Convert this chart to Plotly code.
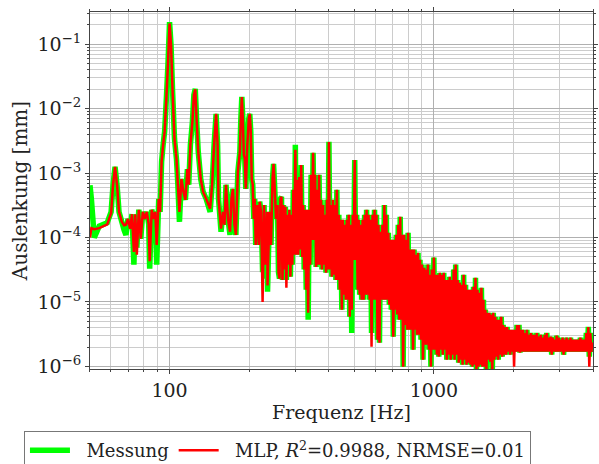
import plotly.graph_objects as go

# Frequency axis values [Hz]
freq_hz = [
    50.0, 50.6, 51.9, 54.2, 58.1, 60.1, 61.1, 62.2, 63.3, 64.4,
    66.0, 67.3, 68.4, 69.6, 70.9, 72.1, 73.3, 74.2, 75.2, 76.5,
    77.8, 79.2, 80.6, 82.0, 83.4, 84.1, 85.6, 87.2, 88.3, 89.4,
    91.0, 92.1, 93.3, 94.5, 95.8, 97.4, 98.7, 100.0, 101.3, 102.6,
    104.4, 106.2, 107.5, 109.0, 110.9, 112.9, 114.8, 116.8, 118.2, 119.9,
    122.0, 123.6, 125.1, 126.7, 128.4, 131.2, 134.0, 137.5, 142.4, 144.9,
    147.4, 150.0, 152.0, 153.2, 156.6, 159.2, 161.4, 163.5, 166.4, 169.3,
    171.5, 173.7, 176.0, 178.2, 181.3, 184.5, 186.1, 187.7, 189.3, 191.0,
    192.6, 194.3, 196.8, 199.4, 201.1, 202.9, 204.6, 206.4, 208.2, 210.0,
    211.8, 214.7, 217.6, 219.2, 222.0, 224.9, 227.8, 230.8, 233.9, 234.8,
    238.9, 242.0, 245.2, 247.4, 249.6, 252.9, 256.1, 258.3, 260.5, 262.8,
    265.1, 267.4, 269.7, 272.0, 274.3, 276.7, 279.0, 281.4, 284.0, 286.5,
    288.9, 291.4, 294.0, 296.5, 299.1, 301.7, 304.2, 306.8, 309.5, 312.2,
    314.8, 317.5, 320.3, 323.1, 326.0, 328.8, 331.6, 334.5, 337.4, 340.3,
    343.2, 346.2, 349.2, 352.2, 355.3, 358.4, 361.5, 364.6, 367.8, 371.0,
    374.1, 377.3, 380.6, 383.9, 387.3, 390.6, 394.0, 397.4, 400.9, 404.4,
    407.8, 411.3, 415.0, 418.6, 422.2, 425.9, 429.5, 433.2, 436.9, 440.7,
    444.6, 448.5, 452.3, 456.2, 460.2, 464.2, 468.2, 472.3, 476.4, 480.5,
    484.7, 488.9, 493.2, 497.5, 501.8, 506.1, 510.5, 514.9, 519.4, 523.9,
    528.4, 533.0, 537.6, 542.3, 547.0, 551.7, 556.5, 561.3, 566.2, 571.1,
    576.0, 581.0, 586.1, 591.2, 596.3, 601.5, 606.6, 611.9, 617.2, 622.5,
    627.9, 633.3, 638.6, 644.1, 649.8, 655.4, 661.1, 666.8, 672.6, 678.4,
    684.3, 690.2, 696.2, 702.2, 708.3, 714.4, 720.6, 726.8, 733.2, 739.5,
    745.9, 752.4, 758.7, 765.3, 771.9, 778.6, 785.4, 792.2, 799.0, 805.9,
    812.9, 819.9, 827.1, 834.3, 841.5, 848.8, 856.1, 863.5, 871.0, 878.5,
    886.2, 893.9, 901.6, 909.4, 917.3, 925.2, 933.3, 941.4, 949.5, 957.7,
    966.0, 974.4, 982.9, 991.4, 1000, 1008.7, 1017, 1026, 1035, 1044,
    1053, 1062, 1072, 1081, 1090, 1099, 1109, 1119, 1128, 1138,
    1148, 1158, 1168, 1178, 1188, 1198, 1209, 1219, 1230, 1241,
    1252, 1263, 1273, 1284, 1296, 1307, 1318, 1329, 1341, 1353,
    1364, 1376, 1388, 1400, 1412, 1424, 1437, 1449, 1462, 1475,
    1487, 1500, 1513, 1526, 1540, 1553, 1566, 1580, 1593, 1607,
    1621, 1635, 1649, 1663, 1678, 1693, 1707, 1722, 1737, 1752,
    1767, 1782, 1798, 1814, 1829, 1845, 1861, 1877, 1893, 1909,
    1926, 1943, 1960, 1977, 1994, 2011, 2028, 2046, 2063, 2081,
    2099, 2117, 2136, 2154, 2173, 2192, 2211, 2230, 2249, 2269,
    2288, 2308, 2328, 2348, 2369, 2389, 2410, 2431, 2452, 2473,
    2495, 2516, 2538, 2560, 2582, 2605, 2627, 2650, 2673, 2696,
    2720, 2743, 2767, 2791, 2815, 2840, 2864, 2889, 2914, 2939,
    2965, 2990, 3016, 3042, 3069, 3095, 3122, 3149, 3176, 3204,
    3232, 3260, 3288, 3316, 3345, 3374, 3403, 3433, 3463, 3493,
    3523, 3553, 3584, 3615, 3646, 3678, 3710, 3742, 3774, 3807,
    3840, 3873, 3907, 3940, 3975, 4000,
]

# Measured displacement amplitude [mm]
messung_mm = [
    6.5e-4, 4.0e-4, 1.0e-4, 1.5e-4, 1.7e-4, 2.5e-4, 6.5e-4, 1.25e-3, 6.5e-4, 2.5e-4,
    1.75e-4, 1.3e-4, 1.1e-4, 1.95e-4, 1.37e-4, 2.3e-4, 3.8e-5, 2.3e-4, 7.0e-5, 2.7e-4,
    9.6e-5, 2.5e-4, 1.95e-4, 2.5e-4, 1.6e-4, 3.3e-5, 2.7e-4, 1.95e-4, 2.5e-4, 3.8e-5,
    4.0e-4, 2.5e-4, 1.5e-3, 2.7e-3, 4.4e-3, 1.64e-2, 5.3e-2, 0.22, 9.7e-2, 2.0e-2,
    3.4e-3, 1.66e-3, 6.6e-4, 1.75e-4, 8.1e-4, 5.1e-4, 3.85e-4, 1.15e-3, 6.6e-4, 2.74e-3,
    6.2e-3, 1.64e-2, 2.03e-2, 6.2e-3, 2.14e-3, 8.1e-4, 5.1e-4, 4.0e-4, 2.5e-4, 6.6e-4,
    2.74e-3, 8.3e-3, 2.7e-3, 4.0e-4, 1.23e-4, 2.5e-4, 1.58e-4, 6.6e-4, 1.95e-4, 1.1e-4,
    4.0e-4, 5.7e-4, 1.58e-4, 1.1e-4, 1.04e-3, 2.14e-3, 7.0e-3, 1.52e-2, 7.0e-3, 1.9e-3,
    1.66e-3, 5.7e-4, 2.7e-3, 7.0e-3, 8.3e-3, 4.4e-3, 8.1e-4, 6.6e-4, 1.95e-4, 4.0e-4,
    7.7e-5, 3.2e-4, 7.7e-5, 3.6e-4, 2.5e-4, 2.9e-5, 3.2e-4, 2.3e-5, 2.5e-4, 1.44e-5,
    2.5e-4, 7.7e-5, 8.1e-4, 1.39e-3, 6.6e-4, 1.95e-4, 3.2e-4, 2.9e-5, 2.3e-5, 4.0e-4,
    4.3e-4, 2.2e-5, 3.2e-4, 3.2e-5, 3.0e-4, 2.2e-5, 2.25e-4, 3.8e-5, 2.7e-4, 2.46e-5,
    2.25e-4, 3.8e-5, 5.5e-4, 5.4e-5, 2.74e-3, 5.4e-5, 7.9e-4, 5.4e-5, 8.7e-4, 6.5e-5,
    1.34e-3, 5.0e-5, 3.2e-4, 3.2e-5, 2.7e-4, 1.55e-5, 2.7e-4, 5.3e-6, 2.7e-4, 3.8e-5,
    9.4e-4, 9.2e-5, 2.06e-3, 9.2e-5, 9.4e-4, 3.5e-5, 5.5e-4, 3.8e-5, 9.4e-4, 3.8e-5,
    3.85e-4, 3.2e-5, 3.2e-4, 3.8e-5, 2.25e-4, 2.84e-5, 3.85e-4, 3.2e-5, 3.05e-3, 3.2e-5,
    3.2e-4, 2.46e-5, 3.85e-4, 2.65e-5, 3.2e-4, 2.2e-5, 5.5e-4, 2.2e-5, 2.25e-4, 1.55e-5,
    1.88e-4, 7.6e-6, 1.88e-4, 1.3e-5, 1.58e-4, 1.08e-5, 1.88e-4, 1.08e-5, 2.25e-4, 5.9e-6,
    1.58e-4, 3.3e-6, 2.25e-4, 4.5e-5, 1.6e-3, 4.5e-5, 2.25e-4, 1.55e-5, 1.88e-4, 1.3e-5,
    1.58e-4, 1.08e-5, 1.88e-4, 1.08e-5, 2.25e-4, 1.3e-5, 2.7e-4, 1.3e-5, 2.25e-4, 1.08e-5,
    1.88e-4, 3.3e-6, 2.25e-4, 1.08e-5, 2.7e-4, 1.08e-5, 2.25e-4, 2.6e-6, 1.58e-4, 2.33e-6,
    1.23e-4, 1.08e-5, 1.58e-4, 1.08e-5, 3.2e-4, 1.08e-5, 2.25e-4, 1.08e-5, 1.19e-4, 9.1e-6,
    9.2e-5, 7.6e-6, 9.2e-5, 2.9e-6, 9.2e-5, 7.6e-6, 1.1e-4, 6.4e-6, 1.58e-4, 5.3e-6,
    2.1e-4, 5.3e-6, 1.1e-4, 9.9e-7, 1.1e-4, 4.4e-6, 9.2e-5, 3.7e-6, 1.19e-4, 3.7e-6,
    6.5e-5, 3.7e-6, 6.5e-5, 1.82e-6, 6.5e-5, 3.7e-6, 5.4e-5, 3.1e-6, 5.8e-5, 3.1e-6,
    4.5e-5, 2.6e-6, 3.8e-5, 1.27e-6, 3.4e-5, 2.17e-6, 3.2e-5, 2.17e-6, 3.8e-5, 1.82e-6,
    2.65e-5, 9.9e-7, 3.2e-5, 1.82e-6, 4.9e-5, 1.82e-6, 2.65e-5, 1.52e-6, 2.65e-5, 1.42e-6,
    2.84e-5, 1.82e-6, 2.65e-5, 1.52e-6, 2.84e-5, 1.82e-6, 2.2e-5, 1.27e-6, 2.2e-5, 1.52e-6,
    2.46e-5, 1.27e-6, 2.2e-5, 1.52e-6, 3.2e-5, 1.27e-6, 3.8e-5, 1.52e-6, 2.2e-5, 1.14e-6,
    1.99e-5, 1.27e-6, 1.85e-5, 1.06e-6, 2.65e-5, 1.27e-6, 1.85e-5, 1.06e-6, 1.55e-5, 1.14e-6,
    1.55e-5, 1.06e-6, 1.55e-5, 9.9e-7, 1.72e-5, 1.06e-6, 2.38e-5, 8.0e-7, 1.55e-5, 9.9e-7,
    1.39e-5, 1.06e-6, 1.66e-5, 9.9e-7, 1.08e-5, 9.9e-7, 7.6e-6, 8.0e-7, 6.8e-6, 1.27e-6,
    6.8e-6, 1.18e-6, 6.4e-6, 8.0e-7, 6.8e-6, 1.27e-6, 5.9e-6, 1.42e-6, 5.3e-6, 1.27e-6,
    5.3e-6, 1.52e-6, 5.9e-6, 1.42e-6, 4.4e-6, 1.52e-6, 4.1e-6, 1.52e-6, 4.1e-6, 1.69e-6,
    3.7e-6, 1.52e-6, 3.7e-6, 1.69e-6, 3.7e-6, 1.69e-6, 3.7e-6, 1.69e-6, 4.4e-6, 1.69e-6,
    4.4e-6, 1.63e-6, 3.7e-6, 1.69e-6, 3.7e-6, 1.69e-6, 3.3e-6, 1.69e-6, 3.7e-6, 1.69e-6,
    3.1e-6, 1.69e-6, 3.3e-6, 1.69e-6, 3.1e-6, 1.69e-6, 3.1e-6, 1.69e-6, 3.3e-6, 1.69e-6,
    2.9e-6, 1.69e-6, 3.1e-6, 1.69e-6, 2.8e-6, 1.69e-6, 3.1e-6, 1.69e-6, 3.3e-6, 1.69e-6,
    2.8e-6, 1.69e-6, 2.9e-6, 1.52e-6, 2.8e-6, 1.69e-6, 2.6e-6, 1.69e-6, 3.0e-6, 1.69e-6,
    2.8e-6, 1.69e-6, 2.6e-6, 1.69e-6, 2.8e-6, 1.52e-6, 2.6e-6, 1.69e-6, 2.8e-6, 1.69e-6,
    2.6e-6, 1.69e-6, 2.8e-6, 1.69e-6, 2.6e-6, 1.69e-6, 2.6e-6, 1.69e-6, 2.6e-6, 1.69e-6,
    2.6e-6, 1.69e-6, 2.8e-6, 1.69e-6, 2.6e-6, 1.69e-6, 2.6e-6, 1.69e-6, 3.3e-6, 1.69e-6,
    4.1e-6, 1.42e-6, 3.3e-6, 1.69e-6, 2.33e-6, 2.17e-6,
]

# MLP prediction: equal to the measurement except at these frequencies [Hz -> mm]
mlp_abweichung = {
    50.0: 1.0e-4, 50.6: 1.4e-4, 51.9: 1.35e-4, 54.2: 1.4e-4, 58.1: 1.6e-4,
    60.1: 2.4e-4, 67.3: 1.55e-4, 68.4: 1.58e-4, 73.3: 6.0e-5, 75.2: 5.4e-5,
    84.1: 4.3e-5, 89.4: 7.7e-5, 100.0: 0.21, 109.0: 2.5e-4, 125.1: 2.0e-2,
    142.4: 2.8e-4, 156.6: 1.37e-4, 169.3: 1.23e-4, 224.9: 1.0e-5, 230.8: 3.8e-5,
    234.8: 1.8e-5, 276.7: 1.66e-5, 299.1: 2.3e-3, 334.5: 6.8e-6, 488.9: 7.6e-6,
    581.0: 2.02e-6, 2011: 9.9e-7, 3873: 9.9e-7,
}
mlp_mm = [mlp_abweichung.get(f, m) for f, m in zip(freq_hz, messung_mm)]

NBSP = "\u00a0"
series_names = [NBSP * 2 + "Messung",
                NBSP * 2 + "MLP, <i>R</i><sup>2</sup>=0.9988, NRMSE=0.01"]

x_tick_vals = [100, 1000]
x_tick_text = ["100", "1000"]
x_minor_vals = [50, 60, 70, 80, 90, 200, 300, 400, 500, 600, 700, 800, 900,
                2000, 3000, 4000]
y_tick_vals = [1e-6, 1e-5, 1e-4, 1e-3, 1e-2, 1e-1]
y_tick_text = ["10<sup>−6</sup>", "10<sup>−5</sup>", "10<sup>−4</sup>",
               "10<sup>−3</sup>", "10<sup>−2</sup>", "10<sup>−1</sup>"]
y_minor_vals = [k * 10.0 ** e for e in range(-7, 0) for k in range(2, 10)]

FONT = "DejaVu Serif"

fig = go.Figure()
fig.add_trace(go.Scatter(x=freq_hz, y=messung_mm, mode="lines", name=series_names[0],
                         line=dict(color="#00ff00", width=5.5, simplify=False)))
fig.add_trace(go.Scatter(x=freq_hz, y=mlp_mm, mode="lines", name=series_names[1],
                         line=dict(color="#ff0000", width=2.5, simplify=False)))

axis_common = dict(
    showline=True, linecolor="#444444", linewidth=1, mirror="allticks",
    ticks="outside", ticklen=4, tickcolor="#444444",
    showgrid=True, gridcolor="#b0b0b0", gridwidth=1, zeroline=False,
    tickfont=dict(family=FONT, size=19, color="#222222"),
)

fig.update_xaxes(
    type="log", range=[1.699, 3.602],
    tickmode="array", tickvals=x_tick_vals, ticktext=x_tick_text,
    minor=dict(tickmode="array", tickvals=x_minor_vals, showgrid=True,
               gridcolor="#cccccc", ticks="outside", ticklen=2, tickcolor="#444444"),
    title=dict(text="Frequenz [Hz]", font=dict(family=FONT, size=19, color="#222222"),
               standoff=4),
    **axis_common,
)
fig.update_yaxes(
    type="log", range=[-6.04, -0.5],
    tickmode="array", tickvals=y_tick_vals, ticktext=y_tick_text,
    minor=dict(tickmode="array", tickvals=y_minor_vals, showgrid=True,
               gridcolor="#cccccc", ticks="outside", ticklen=2, tickcolor="#444444"),
    title=dict(text="Auslenkung [mm]", font=dict(family=FONT, size=20, color="#222222"),
               standoff=4),
    **axis_common,
)

fig.update_layout(
    width=599, height=464,
    margin=dict(l=90, r=1, t=12, b=95),
    paper_bgcolor="white", plot_bgcolor="white",
    font=dict(family=FONT, size=19, color="#222222"),
    showlegend=True,
    legend=dict(
        orientation="h", xref="container", yref="container",
        x=0.04, y=0.071, xanchor="left", yanchor="top",
        bordercolor="#777777", borderwidth=1, bgcolor="white",
        font=dict(family=FONT, size=18, color="#222222"),
        itemwidth=40,
    ),
)

fig.write_html("out.html")
